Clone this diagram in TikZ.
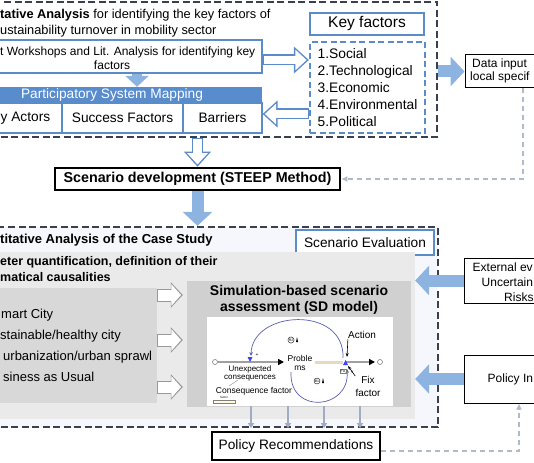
\documentclass[tikz,border=0pt]{standalone}
\usepackage{fontspec}
\setmainfont{Liberation Sans}
\usetikzlibrary{arrows.meta,calc}

\definecolor{dashgray}{RGB}{58,64,80}
\definecolor{keyblue}{RGB}{91,140,200}
\definecolor{bandblue}{RGB}{88,140,204}
\definecolor{fillblue}{RGB}{141,180,224}
\definecolor{linkgray}{RGB}{178,186,202}
\definecolor{panelgray}{RGB}{234,234,234}
\definecolor{boxgray}{RGB}{216,216,216}
\definecolor{sdgray}{RGB}{208,208,208}
\definecolor{paleblue}{RGB}{245,247,252}
\definecolor{loopblue}{RGB}{90,95,175}
\definecolor{tanpipe}{RGB}{232,216,190}
\definecolor{arrowgray}{RGB}{160,172,195}

\newcommand{\fs}[1]{\fontsize{#1}{1.2\dimexpr#1pt\relax}\selectfont}

\tikzset{
  dashbox/.style={draw=dashgray, line width=2.3pt, dash pattern=on 7pt off 3.5pt, inner sep=0pt},
  bluebox/.style={draw=keyblue, line width=2pt, fill=white, inner sep=0pt},
  cellbox/.style={draw=keyblue, line width=1.1pt, fill=white, inner sep=0pt, font=\fs{13.7}},
  thinbox/.style={draw=black, line width=1pt, fill=white, inner sep=0pt},
  txt/.style={anchor=west, inner sep=0pt},
  fatarrow/.style={fillblue, line width=12pt, -{Triangle[length=14pt,width=29pt]}},
  smallfat/.style={fillblue, line width=10pt, -{Triangle[length=11pt,width=23pt]}},
  hollowout/.style={keyblue, line width=11pt, -{Triangle[length=15pt,width=26pt]}},
  hollowin/.style={white, line width=8.4pt, -{Triangle[length=11.3pt,width=20pt]}, shorten >=2.3pt, shorten <=1.3pt},
  grayout/.style={gray!80, line width=13pt, -{Triangle[length=12pt,width=25pt]}, shorten >=4pt},
  grayin/.style={white, line width=11pt, -{Triangle[length=9.6pt,width=21pt]}, shorten >=5.8pt, shorten <=1pt},
  smallgray/.style={arrowgray, line width=1.5pt, -{Triangle[length=5pt,width=6pt]}},
  linkdash/.style={linkgray, line width=1.2pt, dash pattern=on 5pt off 4pt, -{Latex[length=6pt,width=6pt]}},
  pipe/.style={draw=gray!75, line width=2pt, -{Triangle[length=6pt,width=6pt,color=black]}},
  loop/.style={loopblue, line width=0.7pt, -{Stealth[length=4pt,width=3.5pt]}},
}

\begin{document}
\begin{tikzpicture}[x=1pt, y=-1pt]
  \useasboundingbox (0,0) rectangle (534,462);
  \clip (0,0) rectangle (534,462);

  % qualitative part
  \node[dashbox, minimum width=447pt, minimum height=135pt] (qual) at (213.5,69.5) {};
  \node[txt, font=\fs{12.8}] (qualtitle) at (0,15) {\textbf{tative Analysis} for identifying the key factors of};
  \node[txt, font=\fs{12.8}] (qualtitle2) at (0,31) {ustainability turnover in mobility sector};

  \node[bluebox, line width=1.6pt, minimum width=300pt, minimum height=33pt] (expert) at (112,56.5) {};
  \node[txt, font=\fs{12}] (experttxt) at (0,52) {t Workshops and Lit. Analysis for identifying key};
  \node[font=\fs{12}, inner sep=0pt] (experttxt2) at (112,65) {factors};

  \node[fill=bandblue, minimum width=300pt, minimum height=16pt, inner sep=0pt, text=white, font=\fs{13.7}] (psm) at (112,95) {Participatory System Mapping};
  \draw[smallfat] ([xshift=25pt]expert.south) -- ([xshift=25pt]psm.north);

  \node[cellbox, minimum width=100pt, minimum height=30pt] (actors) at (12,118) {};
  \node[cellbox, minimum width=121pt, minimum height=30pt] (success) at (122.5,118) {Success Factors};
  \node[cellbox, minimum width=79pt, minimum height=30pt] (barriers) at (222.5,118) {Barriers};
  \node[txt, font=\fs{13.7}] (actorstxt) at (0.5,118) {y Actors};

  \node[bluebox, line width=2.2pt, minimum width=114pt, minimum height=22pt, font=\fs{15.5}] (keyf) at (367,24) {Key factors};
  \node[draw=keyblue, line width=2.2pt, dash pattern=on 6pt off 3.5pt, minimum width=115pt, minimum height=91pt,
        inner sep=0pt, align=left, font=\fontsize{13.8}{16.8}\selectfont] (keylist) at (367.5,87.5)
        {1.Social\\2.Technological\\3.Economic\\4.Environmental\\5.Political};

  \draw[hollowout] ($(expert.east)+(0,3.5)$) -- ($(expert.east -| keylist.west)+(0,3.5)$);
  \draw[hollowin] ($(expert.east)+(0,3.5)$) -- ($(expert.east -| keylist.west)+(0,3.5)$);
  \draw[hollowout] ($(keylist.west |- barriers.east)+(0,-4)$) -- ($(barriers.east)+(0,-4)$);
  \draw[hollowin] ($(keylist.west |- barriers.east)+(0,-4)$) -- ($(barriers.east)+(0,-4)$);

  % data input
  \node[thinbox, minimum width=116pt, minimum height=33pt] (datain) at (523,71.5) {};
  \node[txt, font=\fs{12}] (datatxt) at (472,64) {Data input};
  \node[txt, font=\fs{12}] (datatxt2) at (470,77) {local specif};
  \draw[fatarrow] (qual.east |- datain.west) -- (datain.west);

  % scenario development
  \node[draw=black, line width=2.5pt, minimum width=285pt, minimum height=22pt, inner sep=0pt,
        font=\bfseries\fs{14.3}] (scen) at (197.5,179) {Scenario development (STEEP Method)};
  \draw[hollowout] (scen.north |- qual.south) -- (scen.north);
  \draw[hollowin] (scen.north |- qual.south) -- (scen.north);
  \draw[linkdash] (datain.south) |- (scen.east);

  % quantitative part
  \node[dashbox, fill=paleblue, minimum width=448pt, minimum height=200pt] (caseb) at (214,327) {};
  \draw[fatarrow] (scen.south) -- (scen.south |- caseb.north);
  \node[bluebox, minimum width=138pt, minimum height=25pt, font=\fs{13.7}] (evalbox) at (365,242.5) {Scenario Evaluation};
  \node[txt, font=\bfseries\fs{13}] (casetitle) at (0,240) {titative Analysis of the Case Study};

  \node[fill=panelgray, minimum width=425pt, minimum height=167pt, inner sep=0pt] (panel) at (202.5,335.5) {};
  \node[txt, font=\bfseries\fs{12.5}] (quanttxt) at (0,262) {eter quantification, definition of their};
  \node[txt, font=\bfseries\fs{12.5}] (quanttxt2) at (0,277) {matical causalities};

  \node[fill=boxgray, minimum width=167pt, minimum height=115pt, inner sep=0pt] (scenlist) at (73.5,345.5) {};
  \node[txt, font=\fs{13}] (smart) at (1,315) {mart City};
  \node[txt, font=\fs{13}] (sustain) at (0,336) {stainable/healthy city};
  \node[txt, font=\fs{13}] (sprawl) at (3,357) {urbanization/urban sprawl};
  \node[txt, font=\fs{13}] (bau) at (3,377) {siness as Usual};

  \node[fill=sdgray, minimum width=224pt, minimum height=126pt, inner sep=0pt] (sdbox) at (299,344) {};
  \node[align=center, inner sep=0pt, font=\bfseries\fontsize{14}{16}\selectfont] (sdtitle) at (299,300)
        {Simulation-based scenario\\assessment (SD model)};
  \node[fill=white, minimum width=186pt, minimum height=89pt, inner sep=0pt] (sdimg) at (300,361.5) {};

  \foreach \ay in {295,340,387} {
    \draw[grayout] (scenlist.east |- 0,\ay) -- (sdbox.west |- 0,\ay);
    \draw[grayin] (scenlist.east |- 0,\ay) -- (sdbox.west |- 0,\ay);
  }

  % SD model sketch
  \draw[gray, line width=0.6pt] (215,362) circle (2.5pt);
  \draw[pipe] (218,362) -- (284,362);
  \draw[tanpipe, line width=3pt] (315,362) -- (343,362);
  \draw[pipe] (346,362) -- (375,362);
  \draw[gray, line width=0.6pt] (380,362) circle (2.5pt);
  \fill[blue!75] (247.5,357) -- (252.5,357) -- (250,362) -- cycle;
  \fill[blue!75] (343,365) -- (348,365) -- (345.5,360) -- cycle;
  \draw[loop] (343,358) .. controls (345,305) and (252,310) .. (251,356);
  \draw[loop] (291,372) .. controls (289,415) and (350,410) .. (347,369);
  \node[font=\fs{10}, inner sep=0pt] (action) at (362,335) {Action};
  \node[font=\fontsize{10}{13}\selectfont, align=center, inner sep=0pt] (fixf) at (368,386.5) {Fix\\factor};
  \draw[-{Stealth[length=4pt]}, line width=0.6pt] (action.south west) -- (347,357);
  \draw[-{Stealth[length=4pt]}, line width=0.6pt] (fixf.north west) -- (348,366);
  \node[font=\fontsize{8.5}{8.5}\selectfont, align=center, inner sep=0pt] (probl) at (300,363) {Proble\\ms};
  \node[font=\fontsize{8}{7.5}\selectfont, align=center, inner sep=0pt] (unexp) at (250,373.5) {Unexpected\\consequences};
  \node[font=\fs{8.5}, inner sep=0pt] (consf) at (254,391) {Consequence factor};
  \draw[gray, line width=0.4pt] (229,386) -- (238,380);
  \node[draw, circle, inner sep=0.4pt, font=\fs{3.5}] (rtwo) at (291,340) {R2};
  \fill (296,342) -- (298,342) -- (297,337) -- cycle;
  \node[draw, circle, inner sep=0.4pt, font=\fs{3.5}] (bone) at (317,381) {B1};
  \fill (322,383) -- (324,383) -- (323,378) -- cycle;
  \node[draw=gray, inner sep=0.5pt, font=\fs{3.5}] (fixtag) at (343,371) {Fix};
  \node[font=\fs{5}, inner sep=0pt] at (257,355) {+};
  \node[font=\fs{5}, inner sep=0pt] at (352,372) {+};
  \node[font=\fs{3}, inner sep=0pt] (slidetxt) at (224,397.5) {factor};
  \node[draw=gray, fill=yellow!15, minimum width=22pt, minimum height=3pt, inner sep=0pt] (slider) at (224,401.5) {};

  \foreach \ax in {251,288,324,360}
    \draw[smallgray] (sdimg.south -| \ax,0) -- (caseb.south -| \ax,0);

  % right side inputs
  \node[thinbox, minimum width=110pt, minimum height=45pt] (extev) at (519,280.5) {};
  \node[txt, font=\fs{12}] (exttxt) at (472.5,267) {External ev};
  \node[txt, font=\fs{12}] (exttxt2) at (481.5,282) {Uncertain};
  \node[txt, font=\fs{12}] (exttxt3) at (504,297) {Risks};
  \draw[fatarrow] (extev.west) -- (extev.west -| panel.east);

  \node[thinbox, minimum width=110pt, minimum height=48pt] (policyin) at (519,379) {};
  \node[txt, font=\fs{12}] (policytxt) at (487.5,379) {Policy In};
  \draw[fatarrow] (policyin.west) -- (policyin.west -| panel.east);

  \node[thinbox, line width=1.2pt, minimum width=168pt, minimum height=28pt, font=\fs{13.7}] (policyrec) at (296,446) {Policy Recommendations};
  \draw[linkdash] ([yshift=-5pt]policyrec.east) -| (policyin.south);
\end{tikzpicture}
\end{document}
